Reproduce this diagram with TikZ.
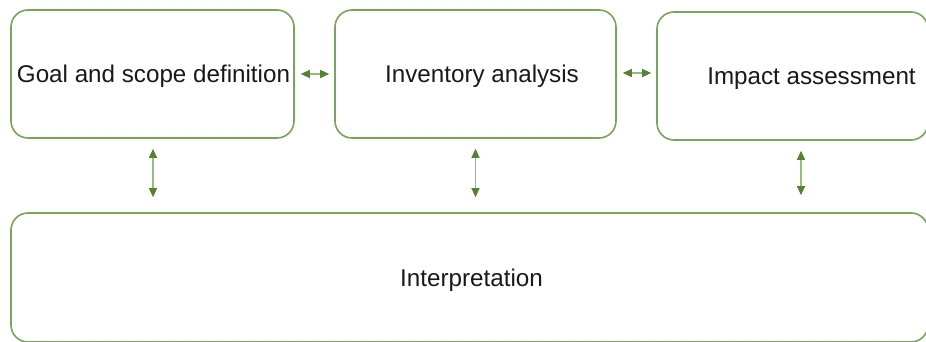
\documentclass[tikz,border=0pt]{standalone}
\usepackage{fontspec}
\setmainfont{Liberation Sans}
\usetikzlibrary{arrows.meta}
\definecolor{boxgreen}{RGB}{122,163,92}
\definecolor{arrgreen}{RGB}{84,130,53}
\definecolor{shaftgreen}{RGB}{150,185,125}
\begin{document}
\begin{tikzpicture}[x=1pt,y=-1pt,
  box/.style={draw=boxgreen, line width=1.6pt, rounded corners=17pt, inner sep=0pt, fill=white},
  lbl/.style={inner sep=0pt, anchor=base, font=\fontsize{24.2}{29}\selectfont, text=black!90},
  link/.style={draw=shaftgreen, line width=1.1pt, {Triangle[length=9pt,width=8pt,color=arrgreen]}-{Triangle[length=9pt,width=8pt,color=arrgreen]}}]
\useasboundingbox (0,0) rectangle (926,342);
\fill[white] (0,0) rectangle (926,342);
\node[box, minimum width=283pt, minimum height=128pt] (goal) at (152.5,74) {};
\node[box, minimum width=281pt, minimum height=128pt] (inv) at (475.5,74) {};
\node[box, minimum width=271pt, minimum height=128pt] (imp) at (792.5,76) {};
\node[box, minimum width=917pt, minimum height=129pt] (interp) at (469.5,277.5) {};
\node[lbl] (tgoal) at (153.5,83) {Goal and scope definition};
\node[lbl] (tinv) at (482,83) {Inventory analysis};
\node[lbl] (timp) at (811.5,85) {Impact assessment};
\node[lbl] (tint) at (471.5,286) {Interpretation};
\draw[link, shorten <=6pt, shorten >=5pt] (goal.east) -- (goal.east -| inv.west);
\draw[link, shorten <=6pt, shorten >=5pt] ([yshift=1pt]inv.east) -- ([yshift=1pt]inv.east -| imp.west);
\draw[link, shorten <=10pt, shorten >=15pt] ([xshift=0.5pt]goal.south) -- ([xshift=0.5pt]goal.south |- interp.north);
\draw[link, shorten <=10pt, shorten >=15pt] (inv.south) -- (inv.south |- interp.north);
\draw[link, shorten <=10pt, shorten >=15pt] ([xshift=8.5pt]imp.south) -- ([xshift=8.5pt,yshift=2pt]imp.south |- interp.north);
\end{tikzpicture}
\end{document}
